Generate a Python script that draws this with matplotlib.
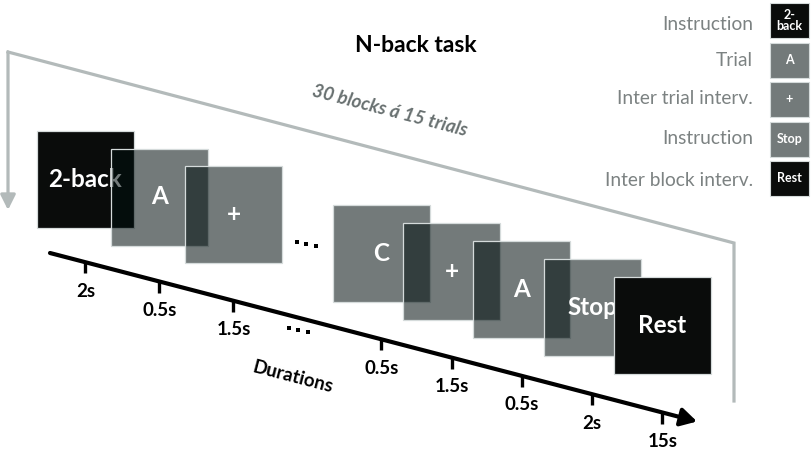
import matplotlib
matplotlib.use("Agg")
import matplotlib.pyplot as plt
from matplotlib.patches import Rectangle
import numpy as np

# ---------------- data ----------------
title = "N-back task"
stim_labels = ["2-back", "A", "+", "C", "+", "A", "Stop", "Rest"]
stim_shades = ["dark", "grey", "grey", "grey", "grey", "grey", "grey", "dark"]
durations = ["2s", "0.5s", "1.5s", "0.5s", "1.5s", "0.5s", "2s", "15s"]
group_sizes = [3, 5]
loop_label = "30 blocks á 15 trials"
axis_label = "Durations"
legend_labels = ["Instruction", "Trial", "Inter trial interv.", "Instruction", "Inter block interv."]
legend_symbols = ["2-\nback", "A", "+", "Stop", "Rest"]
legend_shades = ["dark", "grey", "grey", "grey", "dark"]

# ---------------- style / layout ----------------
plt.rcParams['font.family'] = ['Lato', 'DejaVu Sans']
W, H = 812, 449
fig = plt.figure(figsize=(W / 100, H / 100), dpi=100)
ax = fig.add_axes([0, 0, 1, 1])
ax.set_xlim(0, W)
ax.set_ylim(H, 0)
ax.axis("off")

DARK = "#0a0c0b"
GREY = (0.0, 0.055, 0.055, 0.55)
EDGE = "#d5dbdb"
LOOP = "#b3baba"
shade_color = {"dark": DARK, "grey": GREY}

BOX = 97
group_origin = [(37, 131), (333, 205)]
group_step = [(74, 17.5), (70.25, 18)]

ax_start = (50, 253)
ax_end = (697, 421.5)
slope = (ax_end[1] - ax_start[1]) / (ax_end[0] - ax_start[0])
angle = -np.degrees(np.arctan(slope))


def axis_y(x):
    return ax_start[1] + slope * (x - ax_start[0])


# boxes
positions = []
for g, n in enumerate(group_sizes):
    ox, oy = group_origin[g]
    sx, sy = group_step[g]
    for i in range(n):
        positions.append((ox + i * sx, oy + i * sy))

for k, (lab, shade) in enumerate(zip(stim_labels, stim_shades)):
    x0, y0 = positions[k]
    ax.add_patch(Rectangle((x0, y0), BOX, BOX, facecolor=shade_color[shade],
                           edgecolor=EDGE, lw=0.9, zorder=10 + 2 * k))
    ax.text(x0 + BOX / 2, y0 + BOX / 2, lab, color="white", fontsize=17.5,
            fontweight="bold", ha="center", va="center", zorder=11 + 2 * k)

# time axis
ax.annotate("", xy=ax_end, xytext=ax_start,
            arrowprops=dict(arrowstyle="-|>,head_length=0.8,head_width=0.45",
                            lw=3, color="black", mutation_scale=12,
                            shrinkA=0, shrinkB=0), zorder=5)
for k, d in enumerate(durations):
    cx = positions[k][0] + BOX / 2
    ay = axis_y(cx)
    ax.plot([cx, cx], [ay, ay + 11], color="black", lw=2.4, solid_capstyle="butt", zorder=5)
    ax.text(cx, ay + 29, d, fontsize=13.5, fontweight="bold", ha="center",
            va="center", zorder=5)

# ellipsis dots
for (dx0, dy0) in [(297, 241.5), (289, 327.5)]:
    xs = dx0 + np.arange(3) * 9.5
    ax.plot(xs, dy0 + slope * (xs - dx0), ls="none", marker="s", ms=3.4,
            mew=0, color="black", zorder=5)

ax.text(293, 377, axis_label, fontsize=13.5, fontweight="bold", ha="center",
        va="center", rotation=angle, rotation_mode="anchor")

# loop line
ax.plot([8, 734, 734], [52, 243, 401], color=LOOP, lw=2.3, zorder=2,
        solid_joinstyle="miter")
ax.annotate("", xy=(8, 210), xytext=(8, 52),
            arrowprops=dict(arrowstyle="-|>,head_length=0.9,head_width=0.45",
                            lw=2.3, color=LOOP, mutation_scale=10,
                            shrinkA=0, shrinkB=0), zorder=2)
ax.text(390, 111, loop_label, fontsize=13.5, fontweight="bold", style="italic",
        color="#687070", ha="center", va="center", rotation=angle,
        rotation_mode="anchor")

# title
ax.text(416, 46, title, fontsize=16.5, fontweight="bold", ha="center", va="center")

# legend
label_y = [25, 60, 99, 139, 180]
for i, (lab, sym, shade) in enumerate(zip(legend_labels, legend_symbols, legend_shades)):
    top = 3 + 39.5 * i
    ax.add_patch(Rectangle((770, top), 39, 35, facecolor=shade_color[shade],
                           edgecolor=EDGE, lw=0.8, zorder=3))
    ax.text(789.5, top + 17.5, sym, color="white", fontsize=9, fontweight="bold",
            ha="center", va="center", linespacing=0.9, zorder=4)
    ax.text(753, label_y[i], lab, fontsize=13.8, color="#7c8282", ha="right", va="center")

fig.savefig("out.png", dpi=100)
